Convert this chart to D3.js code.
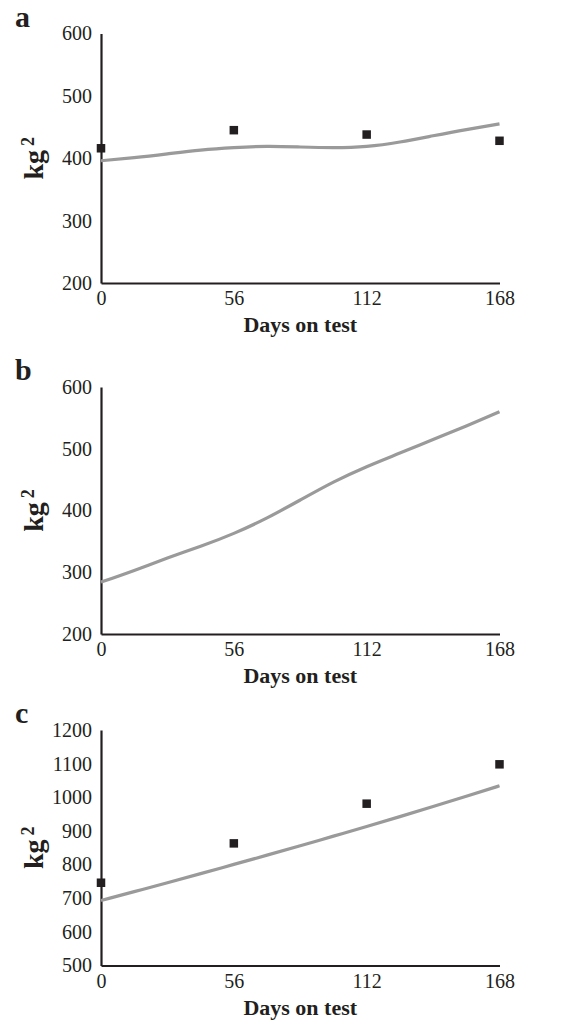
<!DOCTYPE html>
<html>
<head>
<meta charset="utf-8">
<script src="https://cdn.jsdelivr.net/npm/d3@7"></script>
<style>
  html, body { margin: 0; padding: 0; background: #fff; }
  svg text { font-family: "Liberation Serif", "Times New Roman", serif; fill: #231f20; }
</style>
</head>
<body>
<svg id="chart" width="562" height="1025"></svg>
<script>
// ---- Data ----
const dayTicks = [0, 56, 112, 168];

const panelLabels = ["a", "b", "c"];

const yTicksA = [200, 300, 400, 500, 600];
const yTicksB = [200, 300, 400, 500, 600];
const yTicksC = [500, 600, 700, 800, 900, 1000, 1100, 1200];

// fitted curves (days, kg²)
const curveDays = [0, 14, 28, 42, 56, 70, 84, 98, 112, 126, 140, 154, 168];
const curveA = [396, 401, 407, 413, 417, 419, 418, 417, 419, 426, 436, 446, 455];
const curveB = [284, 303, 323, 342, 363, 388, 417, 446, 471, 493, 515, 537, 560];
const curveC = [693, 719.5, 746, 773, 800.5, 828, 856, 884.5, 913, 942.5, 972.5, 1003, 1034];

// observed points
const pointDays = [0, 56, 112, 168];
const pointsA = [416, 445, 438, 428];
const pointsC = [746, 863, 981, 1098];

// ---- Layout ----
const panels = [
  { label: panelLabels[0], top: 33.5, bottom: 283, yTicks: yTicksA, curve: curveA, points: pointsA, domain: [200, 600] },
  { label: panelLabels[1], top: 387, bottom: 634, yTicks: yTicksB, curve: curveB, points: null, domain: [200, 600] },
  { label: panelLabels[2], top: 730, bottom: 965.5, yTicks: yTicksC, curve: curveC, points: pointsC, domain: [500, 1200] }
];

const svg = d3.select("#chart");
const xLeft = 101, xRight = 499.5;
const ink = "#231f20";

panels.forEach(p => {
  const g = svg.append("g");
  const x = d3.scaleLinear().domain([0, 168]).range([xLeft, xRight]);
  const y = d3.scaleLinear().domain(p.domain).range([p.bottom, p.top]);

  // panel letter
  g.append("text")
    .attr("x", 15).attr("y", p.top - 7)
    .attr("font-size", 30).attr("font-weight", "bold")
    .text(p.label);

  // y axis
  const yAxis = d3.axisLeft(y).tickValues(p.yTicks).tickSize(0).tickPadding(9).tickFormat(d3.format("d"));
  const ya = g.append("g").attr("transform", `translate(${xLeft},0)`).call(yAxis);
  ya.select(".domain").attr("stroke", ink).attr("stroke-width", 2.2);
  ya.selectAll("text").attr("font-size", 20).attr("fill", ink)
    .style("font-family", '"Liberation Serif", serif');

  // x axis
  const xAxis = d3.axisBottom(x).tickValues(dayTicks).tickSize(0).tickPadding(8).tickFormat(d3.format("d"));
  const xa = g.append("g").attr("transform", `translate(0,${p.bottom})`).call(xAxis);
  xa.select(".domain").attr("stroke", ink).attr("stroke-width", 2.2);
  xa.selectAll("text").attr("font-size", 20).attr("fill", ink)
    .style("font-family", '"Liberation Serif", serif');

  // x axis title
  g.append("text")
    .attr("x", (xLeft + xRight) / 2).attr("y", p.bottom + 49)
    .attr("text-anchor", "middle")
    .attr("font-size", 22).attr("font-weight", "bold")
    .text("Days on test");

  // y axis title kg²
  const cy = (p.top + p.bottom) / 2;
  const yt = g.append("text")
    .attr("transform", `translate(43,${cy}) rotate(-90)`)
    .attr("text-anchor", "middle")
    .attr("font-size", 28).attr("font-weight", "bold");
  yt.append("tspan").text("kg");
  yt.append("tspan").attr("dx", 4).attr("dy", -9).attr("font-size", 18).attr("font-weight", "bold").text("2");

  // curve
  const line = d3.line()
    .x((d, i) => x(curveDays[i]))
    .y(d => y(d))
    .curve(d3.curveNatural);
  g.append("path")
    .datum(p.curve)
    .attr("d", line)
    .attr("fill", "none")
    .attr("stroke", "#9a9a9a")
    .attr("stroke-width", 3.2);

  // points
  if (p.points) {
    const s = 8.5;
    g.selectAll("rect.pt").data(p.points).enter().append("rect")
      .attr("class", "pt")
      .attr("x", (d, i) => x(pointDays[i]) - s / 2)
      .attr("y", d => y(d) - s / 2)
      .attr("width", s).attr("height", s)
      .attr("fill", ink);
  }
});
</script>
</body>
</html>
